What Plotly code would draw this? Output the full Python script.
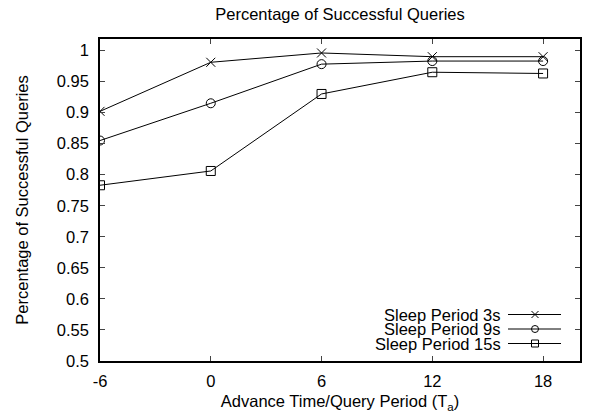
import plotly.graph_objects as go

x_vals = [-6, 0, 6, 12, 18]
sleep_3s = [0.902, 0.981, 0.996, 0.990, 0.990]
sleep_9s = [0.855, 0.915, 0.978, 0.983, 0.983]
sleep_15s = [0.783, 0.806, 0.930, 0.965, 0.963]
series_names = ["Sleep Period 3s", "Sleep Period 9s", "Sleep Period 15s"]
series_symbols = ["x-thin-open", "circle-open", "square-open"]
y_ticks = [0.5, 0.55, 0.6, 0.65, 0.7, 0.75, 0.8, 0.85, 0.9, 0.95, 1.0]
y_tick_text = ["0.5", "0.55", "0.6", "0.65", "0.7", "0.75", "0.8", "0.85", "0.9", "0.95", "1"]
x_ticks = [-6, 0, 6, 12, 18]
x_tick_text = ["-6", "0", "6", "12", "18"]

FONT = "Liberation Sans, Arial, Helvetica, sans-serif"
FS = 16.5
fig = go.Figure()
for vals, name, sym in zip([sleep_3s, sleep_9s, sleep_15s], series_names, series_symbols):
    fig.add_trace(go.Scatter(
        x=x_vals, y=vals, mode="lines+markers", name=name, showlegend=False,
        line=dict(color="black", width=1),
        marker=dict(symbol=sym, size=9, color="black", line=dict(color="black", width=1)),
    ))

# custom gnuplot-style legend (text right-aligned, sample on the right)
W, H = 597, 414
ml, mr, mt, mb = 100, 17, 39, 53
pw, ph = W - ml - mr, H - mt - mb
def px(x):
    return (x - ml) / pw
def py(y):
    return 1 - (y - mt) / ph
rows_y = [314.5, 329, 343.5]
for name, sym, ry in zip(series_names, series_symbols, rows_y):
    fig.add_annotation(xref="paper", yref="paper", x=px(503), y=py(ry), text=name,
                       showarrow=False, xanchor="right", yanchor="middle",
                       font=dict(family=FONT, size=FS, color="black"))
    fig.add_trace(go.Scatter(
        x=[px(508), px(535), px(561)], y=[py(ry)] * 3, xaxis="x2", yaxis="y2",
        mode="lines", line=dict(color="black", width=1), showlegend=False, hoverinfo="skip"))
    fig.add_trace(go.Scatter(
        x=[px(535)], y=[py(ry)], xaxis="x2", yaxis="y2", mode="markers",
        marker=dict(symbol=sym, size=7, color="black", line=dict(color="black", width=1)),
        showlegend=False, hoverinfo="skip"))

fig.update_layout(
    width=W, height=H,
    margin=dict(l=ml, r=mr, t=mt, b=mb, autoexpand=False),
    paper_bgcolor="white", plot_bgcolor="white",
    font=dict(family=FONT, size=FS, color="black"),
    title=dict(text="Percentage of Successful Queries", x=0.5, xref="paper", xanchor="center",
               y=1 - 14.5 / H, yanchor="middle", font=dict(size=FS)),
    xaxis=dict(range=[-6, 20], tickvals=x_ticks, ticktext=x_tick_text, ticks="inside", ticklen=5,
               showline=True, linecolor="black", linewidth=1.5, mirror="ticks",
               showgrid=False, zeroline=False, ticklabelstandoff=4, automargin=False,
               title=dict(text="Advance Time/Query Period (T<sub>a</sub>)", font=dict(size=FS), standoff=7)),
    yaxis=dict(range=[0.5, 1.0185], tickvals=y_ticks, ticktext=y_tick_text, ticks="inside", ticklen=5,
               showline=True, linecolor="black", linewidth=1.5, mirror="ticks",
               showgrid=False, zeroline=False, ticklabelstandoff=6, automargin=False,
               title=dict(text="Percentage of Successful Queries", font=dict(size=FS), standoff=24)),
    xaxis2=dict(range=[0, 1], overlaying="x", visible=False, fixedrange=True),
    yaxis2=dict(range=[0, 1], overlaying="y", visible=False, fixedrange=True),
)
fig.write_html("out.html")
